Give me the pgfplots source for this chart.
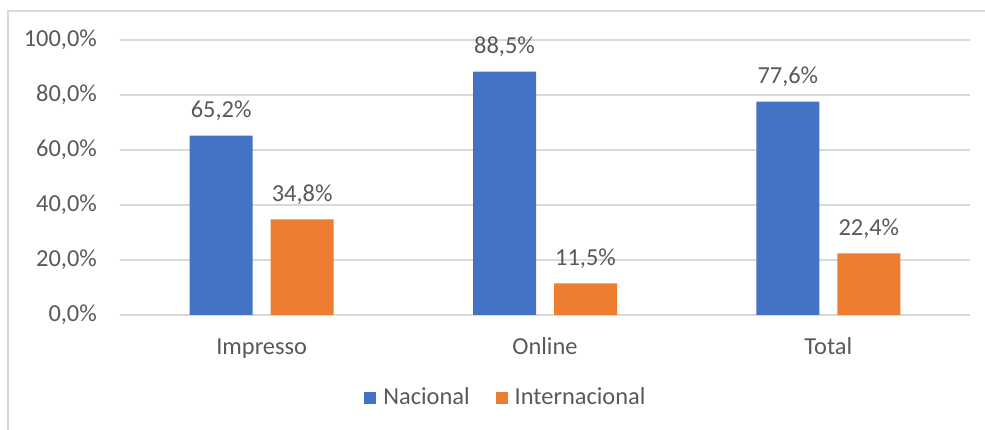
\documentclass[border=0pt]{standalone}
\usepackage{pgfplots}
\pgfplotsset{compat=1.18}
\usepackage{fontspec}
\setmainfont{Carlito}
\definecolor{cblue}{HTML}{4472C4}
\definecolor{corange}{HTML}{ED7D31}
\definecolor{tgray}{HTML}{595959}
\definecolor{lgray}{HTML}{D9D9D9}
\begin{document}
\fontsize{24.5}{29}\selectfont
\begin{tikzpicture}
\path[use as bounding box] (0bp,0bp) rectangle (985bp,430bp);
\draw[lgray, line width=1.5bp] (8bp,-5bp) -- (8bp,419bp) -- (995bp,419bp);
\begin{axis}[
  at={(120bp,115bp)}, anchor=south west,
  scale only axis, width=850bp, height=275bp,
  xmin=-0.5, xmax=2.5, ymin=0, ymax=100,
  ybar, bar width=63bp,
  axis line style={draw=none},
  major tick length=0pt,
  ymajorgrids, grid style={lgray, line width=1.5bp},
  ytick={0,20,40,60,80,100},
  yticklabels={{0,0\%},{20,0\%},{40,0\%},{60,0\%},{80,0\%},{100,0\%}},
  xtick={0,1,2},
  xticklabels={Impresso,Online,Total},
  yticklabel style={anchor=east, inner sep=0pt, xshift=-23bp, text=tgray},
  xticklabel style={anchor=base, inner sep=0pt, yshift=-39.5bp, text=tgray},
  /pgf/number format/assume math mode=true,
  nodes near coords={\pgfmathprintnumber[use comma,fixed,fixed zerofill,precision=1]{\pgfplotspointmeta}\%},
  every node near coord/.append style={anchor=base, inner sep=0pt, yshift=18bp, text=tgray},
  legend style={at={(0.454,-0.302)}, anchor=center, draw=none, fill=none,
    legend columns=-1, text=tgray,
    /tikz/every odd column/.append style={column sep=5bp},
    /tikz/every even column/.append style={column sep=24bp}},
  legend image code/.code={\fill[#1] (0bp,-6bp) rectangle (12bp,6bp);},
]
\addplot[fill=cblue, draw=none, bar shift=-40.5bp] coordinates {(0,65.2) (1,88.5) (2,77.6)};
\addplot[fill=corange, draw=none, bar shift=40.5bp] coordinates {(0,34.8) (1,11.5) (2,22.4)};
\legend{Nacional, Internacional}
\end{axis}
\end{tikzpicture}
\end{document}
